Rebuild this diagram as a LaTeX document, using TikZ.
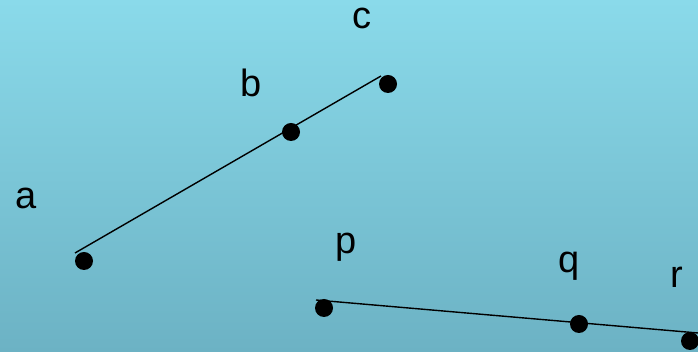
\documentclass[tikz,border=0pt]{standalone}
\usepackage{fontspec}
\setmainfont{Liberation Sans}
\begin{document}
\begin{tikzpicture}[x=1pt,y=1pt,
  dot/.style={circle,fill=black,inner sep=0pt,minimum size=18pt},
  lbl/.style={anchor=base,font=\fontsize{38}{38}\selectfont,inner sep=0pt},
  seg/.style={line width=1.4pt,black}]
\definecolor{topc}{RGB}{138,218,234}
\definecolor{botc}{RGB}{108,178,196}
\shade[top color=topc,bottom color=botc] (0,0) rectangle (698,352);
\useasboundingbox (0,0) rectangle (698,352);
% dots
\node[dot] (A) at (84,91) {};
\node[dot] (B) at (291,220) {};
\node[dot] (C) at (388,268) {};
\node[dot] (P) at (324,44) {};
\node[dot] (Q) at (579,28) {};
\node[dot] (R) at (690,11) {};
% line endpoints
\coordinate (a1) at (75,99);
\coordinate (c1) at (381,276);
\coordinate (p1) at (316,52);
\coordinate (r1) at (698,19);
\draw[seg] (a1) -- (c1);
\draw[seg] (p1) -- (r1);
% labels
\node[lbl] (la) at (26,143) {a};
\node[lbl] (lb) at (251,255) {b};
\node[lbl] (lc) at (362,323) {c};
\node[lbl] (lp) at (346,98) {p};
\node[lbl] (lq) at (569,79) {q};
\node[lbl] (lr) at (677,64) {r};
\end{tikzpicture}
\end{document}
